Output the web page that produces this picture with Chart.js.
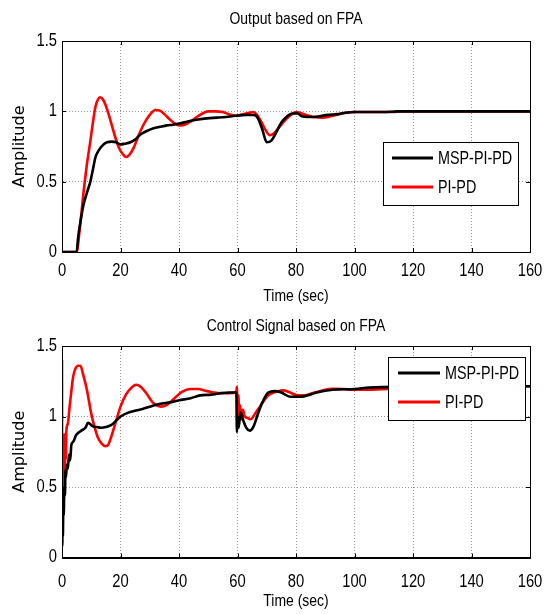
<!DOCTYPE html>
<html><head><meta charset="utf-8">
<script src="https://cdn.jsdelivr.net/npm/chart.js@4.4.1/dist/chart.umd.min.js"></script>
<style>
html,body{margin:0;padding:0;background:#fff;width:549px;height:614px;overflow:hidden}
canvas{position:absolute;left:0}
#c1{top:0}
#c2{top:307px}
</style></head><body>
<canvas id="c1" width="549" height="307"></canvas>
<canvas id="c2" width="549" height="307"></canvas>
<script>
// ---------- data ----------
const seriesNames = ['MSP-PI-PD', 'PI-PD'];
const xTickValues = [0, 20, 40, 60, 80, 100, 120, 140, 160];
const yTickValues = [0, 0.5, 1, 1.5];

// Output based on FPA
const outMspT = [0, 5, 5.5, 6.5, 7.4, 8.5, 9.7, 10.5, 11.4, 12.2, 13.1, 14.2, 15.4, 17, 18.5, 20, 21.5, 23.4, 25, 26.8, 29, 31.3, 33.5, 35.9, 38, 40.5, 43.3, 46, 49.5, 53, 56, 60, 63, 65.7, 67, 68.5, 70, 71.5, 73, 75, 77, 78.6, 80.5, 82, 84, 86, 88, 90.9, 94, 97, 100, 105, 110, 115, 130, 160];
const outMspV = [0, 0, 0.1, 0.24, 0.34, 0.42, 0.5, 0.58, 0.67, 0.71, 0.74, 0.765, 0.78, 0.785, 0.78, 0.765, 0.77, 0.78, 0.8, 0.835, 0.86, 0.88, 0.89, 0.9, 0.905, 0.915, 0.93, 0.94, 0.95, 0.955, 0.96, 0.97, 0.975, 0.974, 0.95, 0.87, 0.78, 0.79, 0.84, 0.92, 0.965, 0.985, 0.985, 0.965, 0.96, 0.96, 0.965, 0.975, 0.98, 0.99, 0.995, 0.995, 0.995, 1.0, 1.0, 1.0];
const outPiT = [0, 5, 6, 7.4, 8.5, 9.7, 10.5, 11.4, 12.2, 12.9, 13.8, 15, 16.5, 18, 19.5, 21, 21.9, 23, 24.5, 26, 28, 30, 31.9, 33.5, 35, 37, 38.8, 40.5, 42.5, 44.5, 46.5, 48.5, 50, 52.5, 55, 57, 59.7, 61, 63, 65.4, 66.5, 68, 69.5, 71.1, 72.5, 74, 76, 78, 80, 82, 84, 86, 88.9, 91, 94, 97, 100, 105, 110, 113.9, 114.1, 160];
const outPiV = [0, 0, 0.15, 0.43, 0.62, 0.79, 0.91, 1.03, 1.08, 1.1, 1.09, 1.04, 0.94, 0.83, 0.74, 0.69, 0.675, 0.69, 0.74, 0.82, 0.91, 0.975, 1.01, 1.005, 0.98, 0.94, 0.91, 0.9, 0.91, 0.935, 0.965, 0.99, 1.0, 1.0, 0.995, 0.98, 0.968, 0.975, 0.985, 0.995, 0.98, 0.93, 0.87, 0.83, 0.845, 0.88, 0.93, 0.97, 0.995, 0.985, 0.97, 0.96, 0.955, 0.96, 0.975, 0.99, 0.995, 0.995, 0.995, 0.995, 1.0, 1.0];

// Control Signal based on FPA
const ctrlMspT = [0, 0.1, 0.2, 0.3, 0.45, 0.6, 0.8, 1.0, 1.2, 1.4, 1.6, 2.0, 2.4, 2.8, 3.2, 3.8, 4.9, 6.6, 8, 8.9, 10.6, 12, 13.4, 15, 16.9, 18, 20, 23, 26.8, 30, 33.6, 37, 40, 44, 47.3, 51, 54.1, 57, 59.6, 59.8, 60.1, 60.4, 61, 62, 63, 64.2, 65.5, 67, 68.5, 70.5, 72.8, 75, 78, 81.4, 84, 87, 92.5, 100, 105, 115, 130, 160];
const ctrlMspV = [0.1, 0.08, 0.3, 0.15, 0.36, 0.3, 0.5, 0.44, 0.62, 0.57, 0.66, 0.63, 0.73, 0.69, 0.8, 0.82, 0.87, 0.9, 0.92, 0.955, 0.93, 0.925, 0.92, 0.925, 0.94, 0.96, 1.0, 1.03, 1.05, 1.07, 1.09, 1.1, 1.115, 1.13, 1.15, 1.155, 1.165, 1.17, 1.17, 0.89, 1.0, 0.92, 1.03, 0.97, 0.92, 0.9, 0.93, 1.02, 1.1, 1.17, 1.18, 1.17, 1.14, 1.14, 1.15, 1.17, 1.19, 1.195, 1.205, 1.21, 1.21, 1.215];
const ctrlPiT = [0, 0.1, 0.25, 0.4, 0.55, 0.7, 0.85, 1.0, 1.15, 1.3, 1.5, 2.0, 2.6, 3.2, 3.8, 4.6, 5.5, 6.3, 7.2, 8.6, 10, 11.2, 12.3, 13.5, 14.8, 15.8, 16.9, 18.5, 20, 22, 24, 25.4, 27, 29, 31, 33.8, 36, 38.5, 41, 43.9, 46.5, 49.6, 54.1, 57, 59.6, 59.8, 60.05, 60.3, 60.6, 60.9, 61.3, 61.8, 62.5, 63.5, 64.5, 66, 68, 70, 71.8, 73.3, 75.5, 78, 80.5, 83, 85.6, 89, 92.5, 96, 100, 105, 115, 130, 160];
const ctrlPiV = [1.4, 0.15, 0.85, 0.45, 0.87, 0.6, 0.85, 0.65, 0.88, 0.7, 0.9, 0.95, 1.07, 1.18, 1.28, 1.34, 1.36, 1.36, 1.3, 1.18, 1.02, 0.92, 0.85, 0.81, 0.79, 0.8, 0.86, 0.97, 1.07, 1.16, 1.21, 1.225, 1.21, 1.16, 1.1, 1.07, 1.085, 1.13, 1.175, 1.195, 1.195, 1.18, 1.165, 1.165, 1.175, 1.21, 0.95, 1.15, 0.96, 1.08, 0.98, 1.05, 1.0, 0.99, 0.98, 1.02, 1.08, 1.14, 1.165, 1.175, 1.185, 1.17, 1.15, 1.15, 1.165, 1.185, 1.197, 1.195, 1.19, 1.19, 1.2, 1.205, 1.215];

// ---------- helpers ----------
// Condensed look (like Arial Narrow) for the Liberation Sans texts.
const NARROW = "'Liberation Sans',Arial,sans-serif";
const NARROW_SCALE = 0.82;
(function () {
  const P = CanvasRenderingContext2D.prototype;
  const origFill = P.fillText;
  P.fillText = function (text, x, y, maxWidth) {
    if (this.font.indexOf('Liberation Sans') >= 0) {
      this.save();
      this.translate(x, y);
      this.scale(NARROW_SCALE, 1);
      if (maxWidth !== undefined && maxWidth !== null) origFill.call(this, text, 0, 0, maxWidth / NARROW_SCALE);
      else origFill.call(this, text, 0, 0);
      this.restore();
    } else if (maxWidth !== undefined && maxWidth !== null) {
      origFill.call(this, text, x, y, maxWidth);
    } else {
      origFill.call(this, text, x, y);
    }
  };
})();

const pts = (t, v) => t.map((x, i) => ({x: x, y: v[i]}));

const titleCenter = {
  id: 'titleCenter',
  afterLayout(chart) {
    const tb = chart.titleBlock;
    if (tb) { tb.left = chart.chartArea.left; tb.right = chart.chartArea.right; tb.width = tb.right - tb.left; }
  }
};

const matlabAxes = {
  id: 'matlabAxes',
  afterDatasetsDraw(chart) {
    const {ctx, chartArea: a, scales: {x, y}} = chart;
    ctx.save();
    ctx.strokeStyle = '#000';
    ctx.lineWidth = 1;
    ctx.beginPath();
    xTickValues.forEach(v => {
      const px = Math.round(x.getPixelForValue(v)) + 0.5;
      ctx.moveTo(px, a.bottom); ctx.lineTo(px, a.bottom - 4);
      ctx.moveTo(px, a.top); ctx.lineTo(px, a.top + 4);
    });
    yTickValues.forEach(v => {
      const py = Math.round(y.getPixelForValue(v)) + 0.5;
      ctx.moveTo(a.left, py); ctx.lineTo(a.left + 4, py);
      ctx.moveTo(a.right, py); ctx.lineTo(a.right - 4, py);
    });
    ctx.stroke();
    ctx.strokeRect(Math.round(a.left) + 0.5, Math.round(a.top) + 0.5, Math.round(a.right - a.left), Math.round(a.bottom - a.top));
    ctx.restore();
  }
};

const boxLegend = {
  id: 'boxLegend',
  afterDraw(chart, args, opts) {
    const ctx = chart.ctx;
    ctx.save();
    ctx.fillStyle = '#fff';
    ctx.fillRect(opts.x, opts.y, opts.w, opts.h);
    ctx.strokeStyle = '#000';
    ctx.lineWidth = 1;
    ctx.strokeRect(opts.x + 0.5, opts.y + 0.5, opts.w, opts.h);
    ctx.font = '17.5px ' + NARROW;
    ctx.textBaseline = 'middle';
    ctx.textAlign = 'left';
    chart.data.datasets.forEach((ds, i) => {
      const ly = opts.y + opts.rows[i];
      ctx.strokeStyle = ds.borderColor;
      ctx.lineWidth = 3;
      ctx.beginPath();
      ctx.moveTo(opts.lx1, ly); ctx.lineTo(opts.lx2, ly);
      ctx.stroke();
      ctx.fillStyle = '#000';
      ctx.fillText(ds.label, opts.tx, ly + 1);
    });
    ctx.restore();
  }
};

function makeChart(id, title, tMsp, vMsp, tPi, vPi, geo) {
  return new Chart(document.getElementById(id), {
    type: 'line',
    data: {
      datasets: [
        {label: seriesNames[0], data: pts(tMsp, vMsp), borderColor: '#000000', borderWidth: 2.6, pointRadius: 0, cubicInterpolationMode: 'monotone', fill: false},
        {label: seriesNames[1], data: pts(tPi, vPi), borderColor: '#ff0000', borderWidth: 2.6, pointRadius: 0, cubicInterpolationMode: 'monotone', fill: false}
      ]
    },
    options: {
      responsive: false,
      animation: false,
      devicePixelRatio: 1,
      layout: {padding: {left: 0, right: geo.padRight, top: 0, bottom: 0}},
      plugins: {
        legend: {display: false},
        tooltip: {enabled: false},
        title: {display: true, text: title, color: '#000', font: {family: NARROW, size: 17, weight: 'normal'}, padding: {top: geo.titleTop, bottom: geo.titleBottom}},
        boxLegend: geo.legend
      },
      scales: {
        x: {
          type: 'linear', min: 0, max: 160,
          afterBuildTicks(s) { s.ticks = xTickValues.map(v => ({value: v})); },
          afterFit(s) { s.height = geo.xHeight; s.paddingLeft = 0; s.paddingRight = 0; },
          ticks: {color: '#000', font: {family: NARROW, size: 18}, padding: geo.xTickPad, maxRotation: 0, autoSkip: false, callback: v => String(v)},
          grid: {color: '#9a9a9a', lineWidth: 1, drawTicks: false},
          border: {display: true, color: '#000', dash: [1, 2]},
          title: {display: true, text: 'Time (sec)', color: '#000', font: {family: NARROW, size: 17}, padding: {top: 0, bottom: geo.xTitleBottom}}
        },
        y: {
          type: 'linear', min: 0, max: 1.5,
          afterBuildTicks(s) { s.ticks = yTickValues.map(v => ({value: v})); },
          afterFit(s) { s.width = 62; s.paddingTop = 0; s.paddingBottom = 0; },
          ticks: {color: '#000', font: {family: NARROW, size: 18}, padding: 5, callback: v => String(v)},
          grid: {color: '#9a9a9a', lineWidth: 1, drawTicks: false},
          border: {display: true, color: '#000', dash: [1, 2]},
          title: {display: true, text: 'Amplitude', color: '#000', font: {family: "'DejaVu Sans',sans-serif", size: 16}, padding: {top: 10, bottom: 0}}
        }
      }
    },
    plugins: [titleCenter, matlabAxes, boxLegend]
  });
}

makeChart('c1', 'Output based on FPA', outMspT, outMspV, outPiT, outPiV, {
  padRight: 19, titleTop: 9, titleBottom: 11.6, xHeight: 55, xTickPad: 8.5, xTitleBottom: 0,
  legend: {x: 383, y: 142, w: 135, h: 63, rows: [16, 45], lx1: 392, lx2: 433, tx: 438}
});
makeChart('c2', 'Control Signal based on FPA', ctrlMspT, ctrlMspV, ctrlPiT, ctrlPiV, {
  padRight: 19, titleTop: 9, titleBottom: 9.6, xHeight: 56.5, xTickPad: 13.5, xTitleBottom: 2.4,
  legend: {x: 388, y: 50, w: 137, h: 63, rows: [16, 45], lx1: 398, lx2: 440, tx: 445}
});
</script>
</body></html>
